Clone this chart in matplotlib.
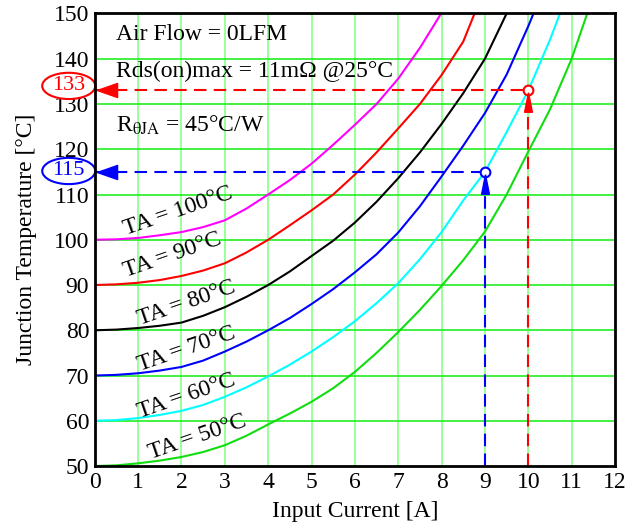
import matplotlib
matplotlib.use("Agg")
import matplotlib.pyplot as plt
import matplotlib.transforms as mtransforms
from matplotlib.patches import Ellipse

plt.rcParams["font.family"] = ["Liberation Serif", "DejaVu Serif"]
plt.rcParams["mathtext.fontset"] = "stix"

# curve readings (current [A], junction temperature [degC]) per ambient temperature
ta_labels = ["TA = 100°C", "TA = 90°C", "TA = 80°C", "TA = 70°C", "TA = 60°C", "TA = 50°C"]
ta_colors = ["#ff00ff", "#ff0000", "#000000", "#0000ff", "#00ffff", "#11dd11"]

i_100 = [0, 0.5, 1, 1.5, 2, 2.5, 3, 3.5, 4, 4.5, 5, 5.5, 6, 6.5, 7, 7.5, 7.99]
t_100 = [100, 100.1, 100.4, 101, 101.7, 102.8, 104.3, 106.9, 110, 113.2, 116.8, 121, 125.4, 130, 135.6, 142.4, 150]

i_90 = [0, 0.5, 1, 1.5, 2, 2.5, 3, 3.5, 4, 4.5, 5, 5.5, 6, 6.5, 7, 7.5, 8, 8.5, 8.76]
t_90 = [90, 90.15, 90.5, 91.1, 92, 93.2, 94.8, 97.2, 100, 103.2, 106.5, 110, 114.4, 119.3, 124.6, 130, 136.4, 143.8, 150]

i_80 = [0, 0.5, 1, 1.5, 2, 2.5, 3, 3.5, 4, 4.5, 5, 5.5, 6, 6.5, 7, 7.5, 8, 8.5, 9, 9.5]
t_80 = [80, 80.15, 80.5, 81.0, 81.7, 83.2, 85.1, 87.4, 90, 93, 96.4, 99.8, 103.8, 108.4, 113.6, 119.3, 125.6, 132.4, 140, 150]

i_70 = [0, 0.5, 1, 1.5, 2, 2.5, 3, 3.5, 4, 4.5, 5, 5.5, 6, 6.5, 7, 7.5, 8, 8.5, 9, 9.5, 10, 10.12]
t_70 = [70, 70.15, 70.5, 71.1, 71.9, 73.3, 75.3, 77.5, 80, 82.7, 85.8, 89.1, 92.8, 96.8, 101.6, 107.4, 114, 120.8, 128, 136.5, 147.2, 150]

i_60 = [0, 0.5, 1, 1.5, 2, 2.5, 3, 3.5, 4, 4.5, 5, 5.5, 6, 6.5, 7, 7.5, 8, 8.5, 9, 9.5, 10, 10.5, 10.73]
t_60 = [60, 60.15, 60.6, 61.3, 62.2, 63.5, 65.3, 67.4, 69.8, 72.4, 75.3, 78.5, 82, 86, 90.4, 95.7, 101.7, 108.7, 115, 123.8, 133, 144.2, 150]

i_50 = [0, 0.5, 1, 1.5, 2, 2.5, 3, 3.5, 4, 4.5, 5, 5.5, 6, 6.5, 7, 7.5, 8, 8.5, 9, 9.5, 10, 10.5, 11, 11.36]
t_50 = [50, 50.15, 50.6, 51.2, 52, 53.1, 54.6, 56.7, 59.2, 61.6, 64.2, 67.2, 70.8, 75, 79.6, 84.5, 89.8, 95.5, 101.8, 110, 119.5, 128.8, 140, 150]

curves_i = [i_100, i_90, i_80, i_70, i_60, i_50]
curves_t = [t_100, t_90, t_80, t_70, t_60, t_50]

# label anchor (current, temperature) for each TA label
label_i = [1.92, 1.8, 2.11, 2.11, 2.11, 2.37]
label_t = [106.4, 96.6, 85.9, 75.8, 65.4, 56.4]

# operating points marked with dashed lines
op_current = [9, 10]
op_temp = [115, 133]
op_colors = ["#0000ff", "#ff0000"]
op_badge_t = [115.2, 134.0]

notes = ["Air Flow = 0LFM", "Rds(on)max = 11m\u03a9 @25°C", r"R$_{\mathrm{\theta JA}}$ = 45°C/W"]
notes_t = [145.3, 137.3, 125.2]

fig = plt.figure(figsize=(6.36, 5.29), dpi=100)
ax = fig.add_axes([0.149, 0.119, 0.818, 0.8555])

ax.set_xlim(0, 12)
ax.set_ylim(50, 150)
ax.set_xticks(range(0, 13))
ax.set_yticks(range(50, 151, 10))
for x in range(1, 12):
    ax.axvline(x, color="#88ff88", lw=1.2, zorder=0)
for y in range(60, 150, 10):
    ax.axhline(y, color="#22ee22", lw=1.2, zorder=0)

for ci, ct, col in zip(curves_i, curves_t, ta_colors):
    ax.plot(ci, ct, color=col, lw=1.5, zorder=3)

for lab, li, lt in zip(ta_labels, label_i, label_t):
    ax.text(li, lt, lab, fontsize=17, rotation=19, ha="center", va="center",
            rotation_mode="anchor", zorder=4)

for note, nt in zip(notes, notes_t):
    ax.text(0.5, nt, note, fontsize=17, ha="left", va="center", zorder=4)

# dashed guide lines with arrow heads and circles
left_tri = [(-1, 0), (1, -0.7), (1, 0.7), (-1, 0)]
up_tri = [(0, 1), (-0.4, -1), (0.4, -1), (0, 1)]
blend = mtransforms.blended_transform_factory(ax.transAxes, ax.transData)
for oc, ot, col, bt in zip(op_current, op_temp, op_colors, op_badge_t):
    ax.plot([0, oc], [ot, ot], color=col, lw=1.5, ls=(0, (6, 3.5)), zorder=5)
    ax.plot([oc, oc], [50, ot], color=col, lw=1.5, ls=(0, (6, 3.5)), zorder=5)
    ax.plot(oc, ot, marker="o", ms=7, mfc="white", mec=col, mew=1.5, zorder=6)
    ax.plot(0.28, ot, marker=left_tri, ms=14.5, color=col, zorder=6, clip_on=False)
    ax.plot(oc, ot - 2.6, marker=up_tri, ms=14, color=col, zorder=6)
    ell = Ellipse((-0.05, bt), 0.102, 5.8, transform=blend, fc="white",
                  ec=col, lw=1.5, clip_on=False, zorder=7)
    ax.add_patch(ell)
    ax.text(-0.05, bt, str(ot), transform=blend, color=col, fontsize=16,
            ha="center", va="center", zorder=8, clip_on=False)

for sp in ax.spines.values():
    sp.set_linewidth(2)
    sp.set_zorder(10)
ax.tick_params(length=0, labelsize=17, pad=4)
ax.set_xlabel("Input Current [A]", fontsize=17, labelpad=6)
ax.set_ylabel("Junction Temperature [°C]", fontsize=17, labelpad=12)

fig.savefig("out.png", dpi=100)
